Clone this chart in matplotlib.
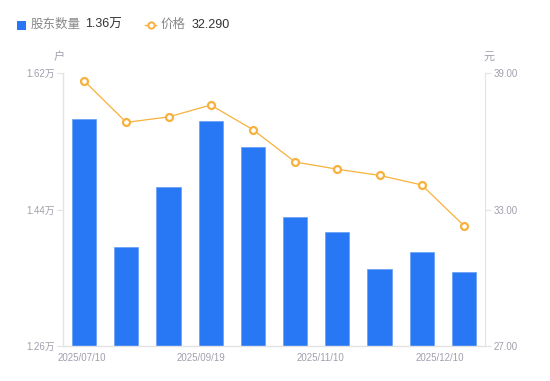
import matplotlib
matplotlib.use("Agg")
import matplotlib.pyplot as plt
from matplotlib.lines import Line2D
from matplotlib.patches import Rectangle

plt.rcParams['font.family'] = ['Liberation Sans', 'Noto Sans CJK SC', 'DejaVu Sans']

dates = ["2025/07/10", "2025/07/31", "2025/08/15", "2025/09/19", "2025/09/30",
         "2025/10/20", "2025/11/10", "2025/11/20", "2025/11/28", "2025/12/10"]
holders = [1.560, 1.390, 1.470, 1.557, 1.523, 1.430, 1.410, 1.362, 1.384, 1.357]  # 万户
prices = [38.66, 36.83, 37.07, 37.59, 36.51, 35.09, 34.77, 34.50, 34.08, 32.29]
left_ticks = [1.26, 1.44, 1.62]
right_ticks = [27.0, 33.0, 39.0]
xtick_labels = ["2025/07/10", "2025/09/19", "2025/11/10", "2025/12/10"]
xtick_pos = [-0.05, 2.77, 5.6, 8.43]

BAR = '#2878f5'
LINE = '#f7b13c'
AX = '#e3e3e3'
TXT = '#a0a0ad'

fig = plt.figure(figsize=(5.5, 3.81), dpi=100)
ax = fig.add_axes([63/550, 35/381, 422/550, 273/381])
x = list(range(len(holders)))
ax.bar(x, holders, width=0.57, color=BAR, edgecolor='#6fa3f7', linewidth=0.6, zorder=2)
ax.set_xlim(-0.5, len(holders) - 0.5)
ax.set_ylim(left_ticks[0], left_ticks[-1])
ax.set_yticks(left_ticks)
ax.set_yticklabels([f"{v:.2f}万" for v in left_ticks])
ax.set_xticks(xtick_pos)
ax.set_xticklabels(xtick_labels)
ax.tick_params(axis='x', length=0, pad=5, labelsize=7, labelcolor=TXT)
ax.tick_params(axis='y', length=4, color=AX, labelsize=7, labelcolor=TXT, pad=2)
for s in ['top', 'right']:
    ax.spines[s].set_visible(False)
for s in ['left', 'bottom']:
    ax.spines[s].set_color(AX)
    ax.spines[s].set_linewidth(1)

ax2 = ax.twinx()
ax2.plot(x, prices, color=LINE, linewidth=0.9, marker='o', markersize=5,
         markerfacecolor='white', markeredgecolor=LINE, markeredgewidth=1.6, zorder=3)
ax2.set_ylim(right_ticks[0], right_ticks[-1])
ax2.set_yticks(right_ticks)
ax2.set_yticklabels([f"{v:.2f}" for v in right_ticks])
ax2.tick_params(axis='y', length=4, color=AX, labelsize=7, labelcolor=TXT, pad=2)
for s in ['top', 'left', 'bottom']:
    ax2.spines[s].set_visible(False)
ax2.spines['right'].set_color(AX)

fig.text(59/550, 1 - 57/381, "户", ha='center', va='center', fontsize=8, color=TXT)
fig.text(489/550, 1 - 57/381, "元", ha='center', va='center', fontsize=8, color=TXT)

# legend
LY = 1 - 25/381
fig.patches.append(Rectangle((17/550, 1 - 29.5/381), 9/550, 9/381, transform=fig.transFigure,
                             facecolor=BAR, edgecolor='none'))
fig.text(31/550, LY, "股东数量", ha='left', va='center', fontsize=9, color='#888888')
fig.text(85/550, LY, f"{holders[-1]:.2f}万", ha='left', va='center', fontsize=9, color='#333333')
fig.lines.append(Line2D([145/550, 156/550], [LY, LY], transform=fig.transFigure,
                        color=LINE, linewidth=1))
fig.lines.append(Line2D([150.5/550], [LY], transform=fig.transFigure, color=LINE,
                        marker='o', markersize=4.5, markerfacecolor='white',
                        markeredgecolor=LINE, markeredgewidth=1.4))
fig.text(161/550, LY, "价格", ha='left', va='center', fontsize=9, color='#888888')
fig.text(192/550, LY, f"{prices[-1]:.3f}", ha='left', va='center', fontsize=9, color='#333333')

fig.savefig("out.png", dpi=100)
